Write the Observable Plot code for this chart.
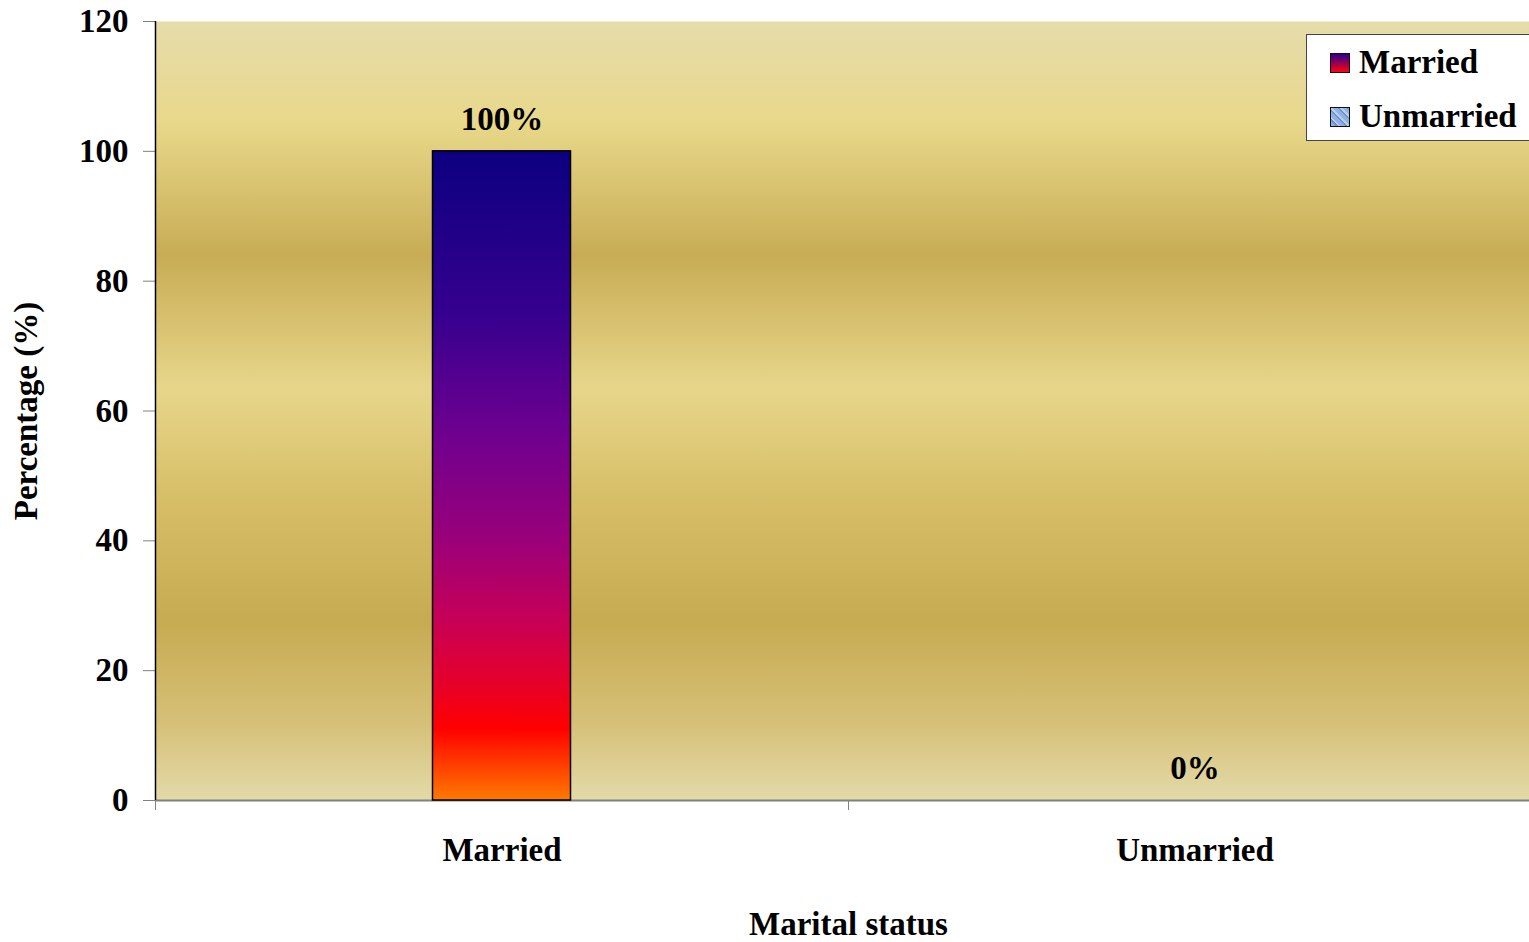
<!DOCTYPE html>
<html>
<head>
<meta charset="utf-8">
<script src="https://cdn.jsdelivr.net/npm/d3@7"></script>
<script src="https://cdn.jsdelivr.net/npm/@observablehq/plot@0.6"></script>
<style>
  html, body { margin: 0; padding: 0; background: #fff; overflow: hidden; }
  #wrap { position: relative; width: 1529px; height: 942px; overflow: hidden; }
  #chart svg { max-width: none !important; }
  #legend {
    position: absolute; left: 1306px; top: 34px; width: 250px; height: 107px;
    background: #fff; border: 1px solid #444; box-sizing: border-box;
    font-family: "Liberation Serif", "Times New Roman", serif; font-weight: bold; font-size: 33px;
  }
  .item { position: absolute; left: 23px; display: flex; align-items: center; white-space: nowrap; }
  .sw { width: 18px; height: 18px; border: 1.5px solid #111; margin-right: 9px; }
</style>
</head>
<body>
<div id="wrap">
  <div id="chart"></div>
  <div id="legend"></div>
</div>
<script>
// Marital status of respondents (%)
const categories = ["Married", "Unmarried"];
const percentages = [100, 0];
const yTicks = [0, 20, 40, 60, 80, 100, 120];
const xTitle = "Marital status";
const yTitle = "Percentage (%)";

const data = categories.map((c, i) => ({category: c, value: percentages[i]}));

const width = 1541, height = 942;
const marginLeft = 155, marginRight = 0, marginTop = 21, marginBottom = 142;
const bandWidth = (width - marginLeft - marginRight) / categories.length;
const barWidth = 138;
const inset = (bandWidth - barWidth) / 2;
const font = '"Liberation Serif", "Times New Roman", serif';

const plot = Plot.plot({
  width, height, marginLeft, marginRight, marginTop, marginBottom,
  style: {fontFamily: font, fontWeight: "bold", fontSize: "33px", background: "transparent",
    overflow: "visible", maxWidth: "none"},
  x: {domain: categories, padding: 0},
  y: {domain: [0, 120]},
  marks: [
    Plot.frame({fill: "url(#plotBg)", stroke: "none"}),
    Plot.axisY({ticks: yTicks, tickSize: 12, tickPadding: 15, stroke: "#808080", fill: "black",
      label: yTitle, labelAnchor: "center", labelOffset: 142, labelArrow: false}),
    Plot.ruleY([0], {stroke: "#808080", strokeWidth: 2}),
    Plot.axisX({tickSize: 10, tickFormat: () => "", dx: -bandWidth / 2, stroke: "#808080", label: null}),
    Plot.axisX({tickSize: 0, tickPadding: 37, fill: "black",
      label: xTitle, labelAnchor: "center", labelOffset: 134, labelArrow: false}),
    Plot.ruleX([categories[0]], {y1: 0, y2: 120, dx: -bandWidth / 2, stroke: "black", strokeWidth: 1.5}),
    Plot.barY(data, {x: "category", y: "value", fill: "url(#barFill)", stroke: "black", strokeWidth: 1.5,
      insetLeft: inset, insetRight: inset}),
    Plot.text(data, {x: "category", y: "value", text: d => `${d.value}%`, dy: -32, fill: "black"})
  ]
});

// Gradients for the plot background and the bar
const defs = d3.select(plot).insert("defs", ":first-child");
function gradient(id, stops) {
  const g = defs.append("linearGradient").attr("id", id)
    .attr("x1", 0).attr("y1", 0).attr("x2", 0).attr("y2", 1);
  for (const [o, c] of stops) g.append("stop").attr("offset", o).attr("stop-color", c);
}
gradient("plotBg", [
  [0, "#e6dcab"], [0.13, "#e8d88a"], [0.3, "#c8ac55"], [0.47, "#e7d68a"],
  [0.62, "#d6bd66"], [0.77, "#c7ab52"], [0.9, "#d6c078"], [1, "#e3daa9"]
]);
gradient("barFill", [
  [0, "#0b0080"], [0.25, "#35008e"], [0.42, "#6a0090"], [0.6, "#9a007a"],
  [0.72, "#c60058"], [0.82, "#e6002a"], [0.89, "#ff0000"], [1, "#ff7a00"]
]);

document.getElementById("chart").appendChild(plot);

// Legend
const legendColors = {
  Married: "linear-gradient(#2a0090, #ff0010)",
  Unmarried: "repeating-linear-gradient(45deg, #8fb0e0 0 3px, #6f92c8 3px 5px, #b5cdef 5px 7px)"
};
const legend = d3.select("#legend");
categories.forEach((c, i) => {
  const item = legend.append("div").attr("class", "item").style("top", `${9 + i * 54}px`);
  item.append("div").attr("class", "sw").style("background", legendColors[c]);
  item.append("span").text(c);
});
</script>
</body>
</html>
